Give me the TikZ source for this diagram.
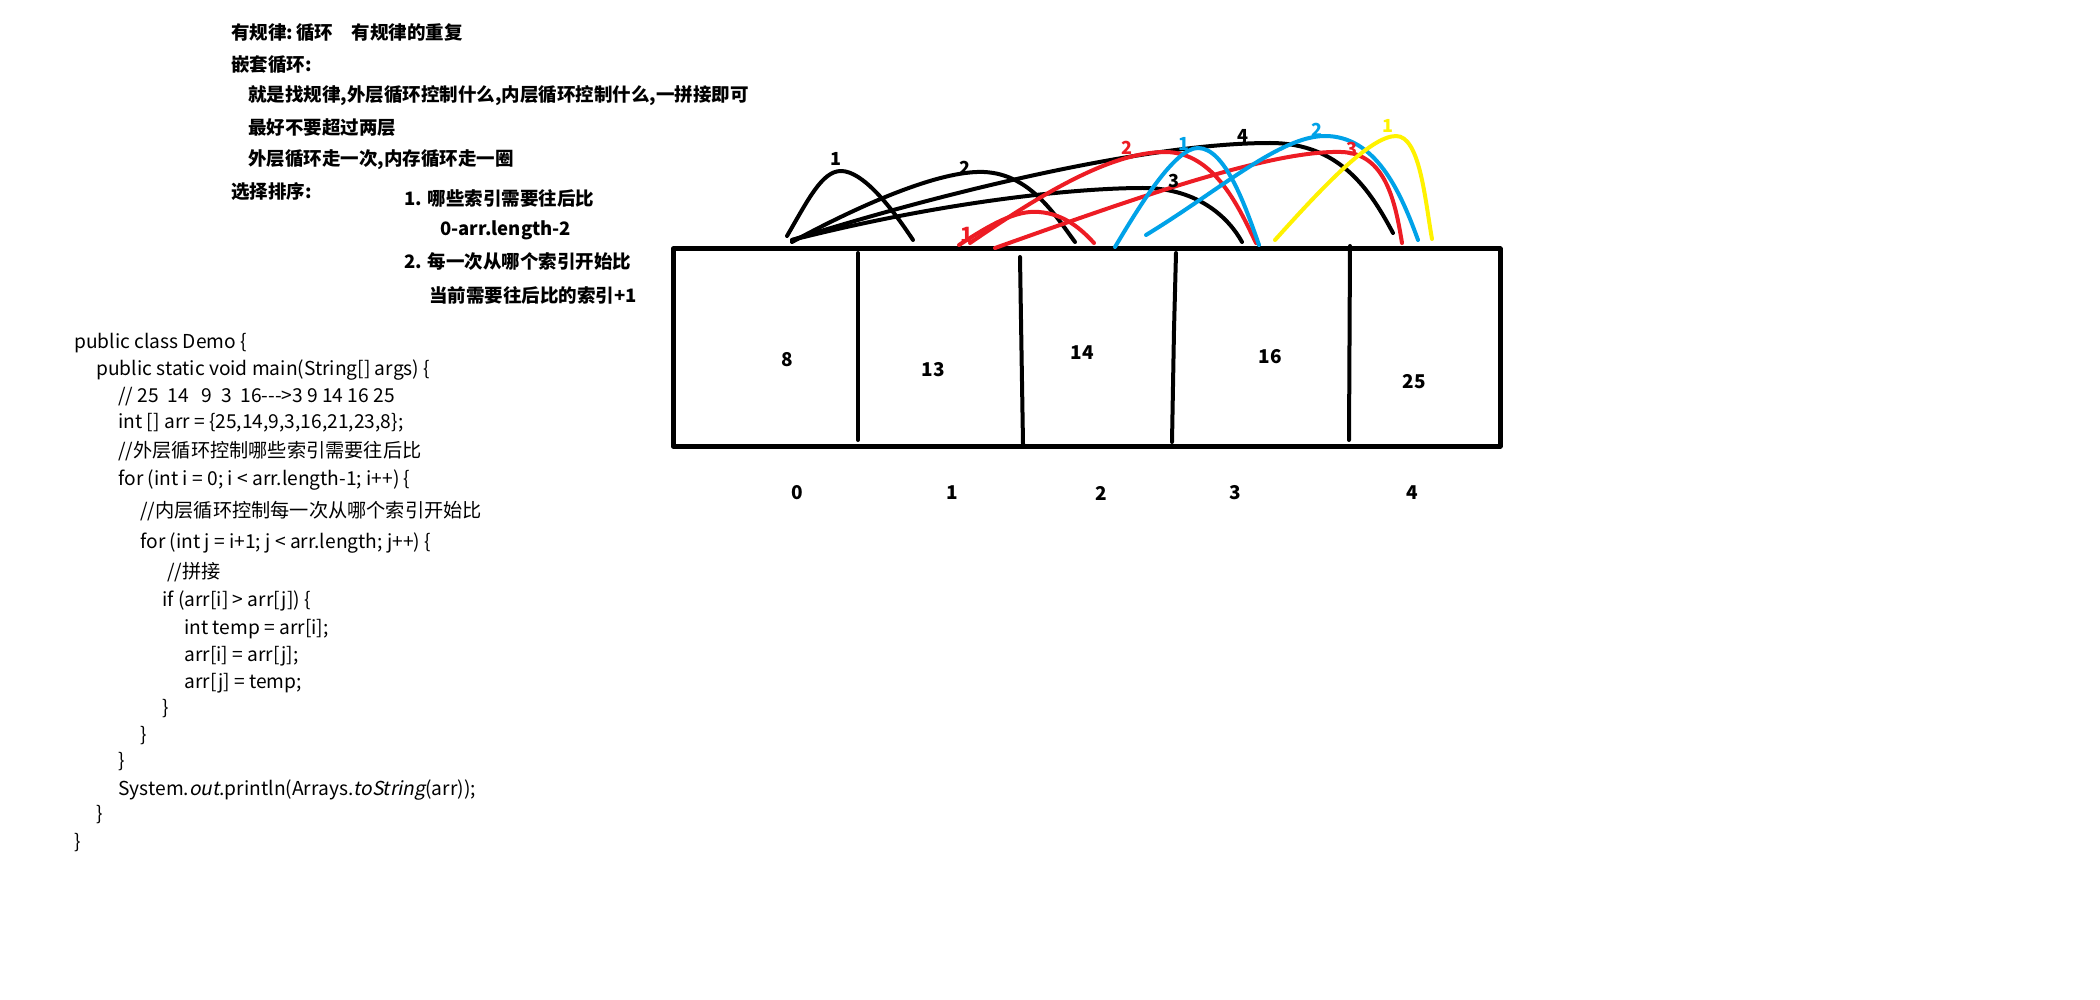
\documentclass[tikz,border=0pt]{standalone}
\usepackage{fontspec}
\setmainfont{Noto Sans CJK SC}[ItalicFont={Noto Sans CJK SC}, ItalicFeatures={FakeSlant=0.2}]
\usetikzlibrary{positioning}
\definecolor{paintred}{HTML}{ED1C24}
\definecolor{paintblue}{HTML}{00A2E8}
\definecolor{paintyellow}{HTML}{FFF200}

\begin{document}
\begin{tikzpicture}[x=0.5pt, y=-0.5pt, line cap=round, line join=round,
    note/.style={anchor=west, inner sep=0pt, font=\bfseries\fontsize{9.25pt}{11pt}\selectfont},
    code/.style={anchor=west, inner sep=0pt, text height=8pt, text depth=2pt, font=\fontsize{9.6pt}{12pt}\selectfont},
    num/.style={inner sep=0pt, font=\bfseries\fontsize{9.5pt}{11pt}\selectfont},
    tag/.style={inner sep=0pt, font=\bfseries\fontsize{9pt}{10pt}\selectfont},
    stroke/.style={line width=2pt}]
\fill[white] (0,0) rectangle (2100,1000);
\useasboundingbox (0,0) rectangle (2100,1000);

% notes
\node[note] (rule) at (231,33) {有规律:\,循环\hspace{1em}有规律的重复};
\node[note] (nest) at (231,65) {嵌套循环:};
\node[note] (nest1) at (248,96) {就是找规律,外层循环控制什么,内层循环控制什么,一拼接即可};
\node[note] (nest2) at (248,128) {最好不要超过两层};
\node[note] (nest3) at (248,160) {外层循环走一次,内存循环走一圈};
\node[note] (sel) at (231,192) {选择排序:};
\node[note] (sel1) at (404,198) {1. 哪些索引需要往后比};
\node[note] (sel1a) at (440,230) {0-arr.length-2};
\node[note] (sel2) at (404,262) {2. 每一次从哪个索引开始比};
\node[note] (sel2a) at (429,295) {当前需要往后比的索引+1};

% code
\begin{scope}[every node/.style=code]
\node (c1) at (74,343) {public class Demo \{};
\node (c2) at (96,370) {public static void main(String[] args) \{};
\node (c3) at (118,396) {// 25~~14~~~9~~3~~16-{}-{}->3 9 14 16 25};
\node (c4) at (118,423) {int [] arr = \{25,14,9,3,16,21,23,8\};};
\node (c5) at (118,451) {//外层循环控制哪些索引需要往后比};
\node (c6) at (118,479) {for (int i = 0; i < arr.length-1; i++) \{};
\node (c7) at (140,511) {//内层循环控制每一次从哪个索引开始比};
\node (c8) at (140,542) {for (int j = i+1; j < arr.length; j++) \{};
\node (c9) at (167,572) {//拼接};
\node (c10) at (162,600) {if (arr[i] > arr[j]) \{};
\node (c11) at (184,628) {int temp = arr[i];};
\node (c12) at (184,655) {arr[i] = arr[j];};
\node (c13) at (184,682) {arr[j] = temp;};
\node (c14) at (162,708) {\}};
\node (c15) at (140,735) {\}};
\node (c16) at (118,761) {\}};
\node (c17) at (118,789) {System.\textit{out}.println(Arrays.\textit{toString}(arr));};
\node (c18) at (96,814) {\}};
\node (c19) at (74,842) {\}};
\end{scope}

% array
\node[draw, line width=2.5pt, minimum width=413.5pt, minimum height=98.5pt, inner sep=0pt] (arr) at (1086.5,347.5) {};
\draw[stroke] (858,253) -- (858,440);
\draw[stroke] (1020,257) -- (1021,320) -- (1023,444);
\draw[stroke] (1176,253) -- (1174,330) -- (1172,442);
\draw[stroke] (1350,246) -- (1349,440);

\node[num] (v0) at (787,360) {8};
\node[num] (v1) at (933,370) {13};
\node[num] (v2) at (1082,353) {14};
\node[num] (v3) at (1270,357) {16};
\node[num] (v4) at (1414,382) {25};

\node[num] (i0) at (797,493) {0};
\node[num] (i1) at (952,493) {1};
\node[num] (i2) at (1101,493) {2};
\node[num] (i3) at (1235,493) {3};
\node[num] (i4) at (1412,493) {4};

% passes
\draw[stroke] (787,236) .. controls (808,200) and (822,171) .. (841,171) .. controls (862,171) and (890,205) .. (913,240);
\draw[stroke] (792,242) .. controls (860,205) and (940,170) .. (984,172) .. controls (1030,174) and (1055,215) .. (1075,242);
\draw[stroke] (792,240) .. controls (950,190) and (1150,143) .. (1270,143) .. controls (1340,143) and (1370,190) .. (1393,233);
\draw[stroke] (792,240) .. controls (950,200) and (1080,188) .. (1143,188) .. controls (1200,188) and (1230,220) .. (1242,242);

\draw[stroke, paintred] (959,245) .. controls (990,225) and (1015,210) .. (1039,212) .. controls (1065,214) and (1082,230) .. (1094,243);
\draw[stroke, paintred] (970,243) .. controls (1040,195) and (1110,152) .. (1165,152) .. controls (1215,152) and (1240,210) .. (1256,243);
\draw[stroke, paintred] (995,248) .. controls (1130,200) and (1270,150) .. (1341,152) .. controls (1385,153) and (1395,200) .. (1402,243);

\draw[stroke, paintblue] (1115,247) .. controls (1140,205) and (1175,148) .. (1198,148) .. controls (1225,148) and (1245,205) .. (1259,245);
\draw[stroke, paintblue] (1146,235) .. controls (1220,190) and (1280,136) .. (1325,136) .. controls (1375,136) and (1400,190) .. (1418,240);

\draw[stroke, paintyellow] (1275,240) .. controls (1320,190) and (1370,136) .. (1396,136) .. controls (1420,136) and (1425,200) .. (1432,239);

\node[tag] (k1) at (836,159) {1};
\node[tag] (k2) at (965,168) {2};
\node[tag] (k3) at (1174,181) {3};
\node[tag] (k4) at (1243,136) {4};
\node[tag, paintred, font=\bfseries\fontsize{10.5pt}{12pt}\selectfont] (r1) at (967,235) {1};
\node[tag, paintred] (r2) at (1127,148) {2};
\node[tag, paintred] (r3) at (1352,149) {3};
\node[tag, paintblue] (u1) at (1184,144) {1};
\node[tag, paintblue] (u2) at (1317,130) {2};
\node[tag, paintyellow] (y1) at (1388,126) {1};
\end{tikzpicture}
\end{document}
